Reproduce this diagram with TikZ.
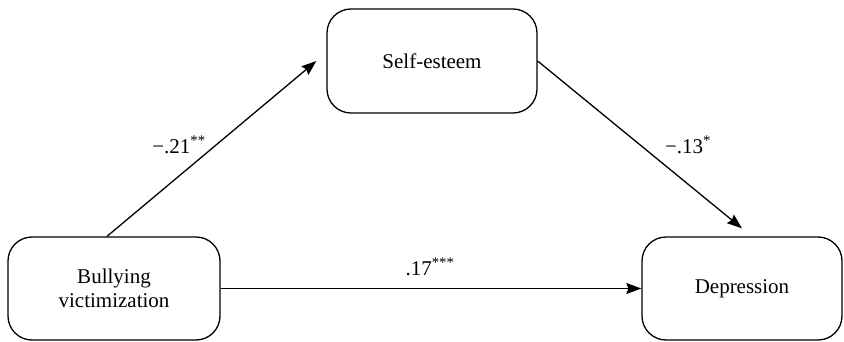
\documentclass[tikz,border=0pt]{standalone}
\usepackage{fontspec}
\setmainfont{Liberation Serif}
\usetikzlibrary{arrows.meta}
\begin{document}
\begin{tikzpicture}[x=1pt,y=1pt,
  var/.style={draw, line width=1.3pt, rounded corners=24pt, align=center,
    inner sep=0pt, font=\fontsize{21}{24}\selectfont},
  path/.style={line width=1.3pt, -{Stealth[length=15pt,width=11pt,inset=2pt]}},
  coef/.style={font=\fontsize{21}{24}\selectfont}]
  \useasboundingbox (0,0) rectangle (844,341);
  % variables
  \node[var, minimum width=212pt, minimum height=103pt] (bv) at (114,52.5) {Bullying\\victimization};
  \node[var, minimum width=210pt, minimum height=104pt] (se) at (432,280) {Self-esteem};
  \node[var, minimum width=200pt, minimum height=103pt] (dep) at (742,52.5) {Depression};
  % paths
  \coordinate (a1s) at ([xshift=-7pt]bv.north);
  \coordinate (a1e) at ([xshift=-10pt]se.west);
  \coordinate (a2e) at ([yshift=8pt]dep.north);
  \draw[path] (a1s) -- (a1e);
  \draw[path] (se.east) -- (a2e);
  \draw[path] (bv.east) -- (dep.west);
  % coefficients
  \node[coef] (c1) at (179,196) {−.21\textsuperscript{**}};
  \node[coef] (c2) at (688,196) {−.13\textsuperscript{*}};
  \node[coef] (c3) at (430,74) {.17\textsuperscript{***}};
\end{tikzpicture}
\end{document}
